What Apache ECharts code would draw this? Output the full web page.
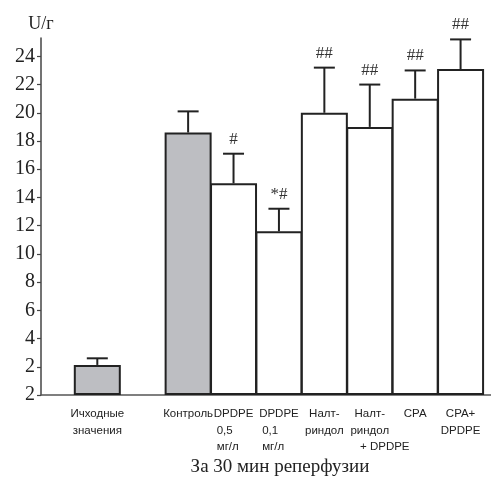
<!DOCTYPE html>
<html>
<head>
<meta charset="utf-8">
<script src="https://cdn.jsdelivr.net/npm/echarts@6/dist/echarts.min.js"></script>
<style>
  html, body { margin: 0; padding: 0; background: #fff; }
  #chart { width: 491px; height: 482px; }
</style>
</head>
<body>
<div id="chart"></div>
<script>
// ---- data ----
const categories = ['Ичходные\nзначения', '', 'Контроль', 'DPDPE\n0,5\nмг/л', 'DPDPE\n0,1\nмг/л', 'Налт-\nриндол', 'Налт-\nриндол\n+ DPDPE', 'CPA', 'CPA+\nDPDPE'];
const means   = [2.13, null, 18.6, 15.0, 11.6, 20.0, 19.0, 21.0, 23.1];
const errTops = [2.6,  null, 20.1, 17.1, 13.2, 23.2, 22.0, 23.0, 25.2];
const marks   = ['', '', '', '#', '*#', '##', '##', '##', '##'];
const isReference = [true, false, true, false, false, false, false, false, false];
const yTicks = [0, 2, 4, 6, 8, 10, 12, 14, 16, 18, 20, 22, 24];
const yTickLabels = ['2', '2', '4', '6', '8', '10', '12', '14', '16', '18', '20', '22', '24'];
const yAxisName = 'U/г';
const xTitle = 'За 30 мин реперфузии';

// ---- styles ----
const SANS = "'Liberation Sans', Arial, sans-serif";
const SERIF = "'Liberation Serif', 'Times New Roman', serif";
const INK = '#222';
const GRAY = '#bdbec2';
const LBL = 11.5;

const labelIdx = categories.map((c, i) => i).filter(i => categories[i] !== '');

function richLabel(i) {
  const lines = categories[i].split('\n');
  return lines.map((ln, k) => {
    if (ln.startsWith('+')) return '{sh|' + ln + '}';
    if (k > 0 && (ln.indexOf('мг') >= 0 || /^\d/.test(ln))) return '{ind|' + ln + '}';
    return '{n|' + ln + '}';
  }).join('\n');
}

const barData = means.map((v, i) => v == null ? null : {
  value: [i, v],
  itemStyle: { color: isReference[i] ? GRAY : '#fff' }
});
const errData = means.map((v, i) => v == null ? null : [i, v, errTops[i]]).filter(d => d);

const chart = echarts.init(document.getElementById('chart'), null, { renderer: 'canvas' });
chart.setOption({
  animation: false,
  backgroundColor: '#fff',
  title: {
    text: xTitle,
    left: 275, top: 453,
    textAlign: 'center',
    textStyle: { fontFamily: SERIF, fontSize: 19, fontWeight: 'normal', color: INK }
  },
  grid: { left: 41, right: 0, top: 38, bottom: 87, containLabel: false },
  xAxis: {
    type: 'value',
    min: -1.24, max: 8.67,
    splitLine: { show: false },
    axisLine: { show: true, onZero: false, lineStyle: { color: '#555', width: 1.5 } },
    axisTick: { show: false },
    axisLabel: {
      customValues: labelIdx,
      margin: 11,
      formatter: v => richLabel(Math.round(v)),
      rich: {
        n:   { fontFamily: SANS, fontSize: LBL, color: INK, lineHeight: 16.5, align: 'center' },
        ind: { fontFamily: SANS, fontSize: LBL, color: INK, lineHeight: 16.5, align: 'left', padding: [0, 0, 0, 3] },
        sh:  { fontFamily: SANS, fontSize: LBL, color: INK, lineHeight: 16.5, padding: [0, 0, 0, 30] }
      }
    }
  },
  yAxis: {
    type: 'value',
    min: 0, max: 25.3,
    name: yAxisName,
    nameLocation: 'end',
    nameGap: 5,
    nameTextStyle: { fontFamily: SERIF, fontSize: 18, color: INK },
    splitLine: { show: false },
    axisLine: { show: true, onZero: false, lineStyle: { color: '#444', width: 1.5 } },
    axisTick: { show: true, customValues: yTicks, length: 4, inside: false, lineStyle: { color: '#444', width: 1.2 } },
    axisLabel: {
      customValues: yTicks,
      margin: 6,
      fontFamily: SERIF, fontSize: 20, color: INK,
      formatter: v => yTickLabels[yTicks.indexOf(v)]
    }
  },
  series: [
    {
      type: 'bar',
      data: barData,
      barWidth: 47,
      itemStyle: { borderColor: INK, borderWidth: 2 },
      z: 2
    },
    {
      type: 'custom',
      data: errData,
      z: 3,
      renderItem: function (params, api) {
        const x = api.value(0);
        const p0 = api.coord([x, api.value(1)]);
        const p1 = api.coord([x, api.value(2)]);
        const mark = marks[x];
        const half = 10.5;
        const children = [
          { type: 'line', shape: { x1: p0[0], y1: p0[1], x2: p1[0], y2: p1[1] }, style: { stroke: INK, lineWidth: 2 } },
          { type: 'line', shape: { x1: p1[0] - half, y1: p1[1], x2: p1[0] + half, y2: p1[1] }, style: { stroke: INK, lineWidth: 2 } }
        ];
        if (mark) {
          children.push({
            type: 'text',
            x: p1[0], y: p1[1] - 6,
            style: { text: mark, textAlign: 'center', textVerticalAlign: 'bottom', fontFamily: SERIF, fontSize: 17, fill: '#333' }
          });
        }
        return { type: 'group', children: children };
      }
    }
  ]
});
</script>
</body>
</html>
